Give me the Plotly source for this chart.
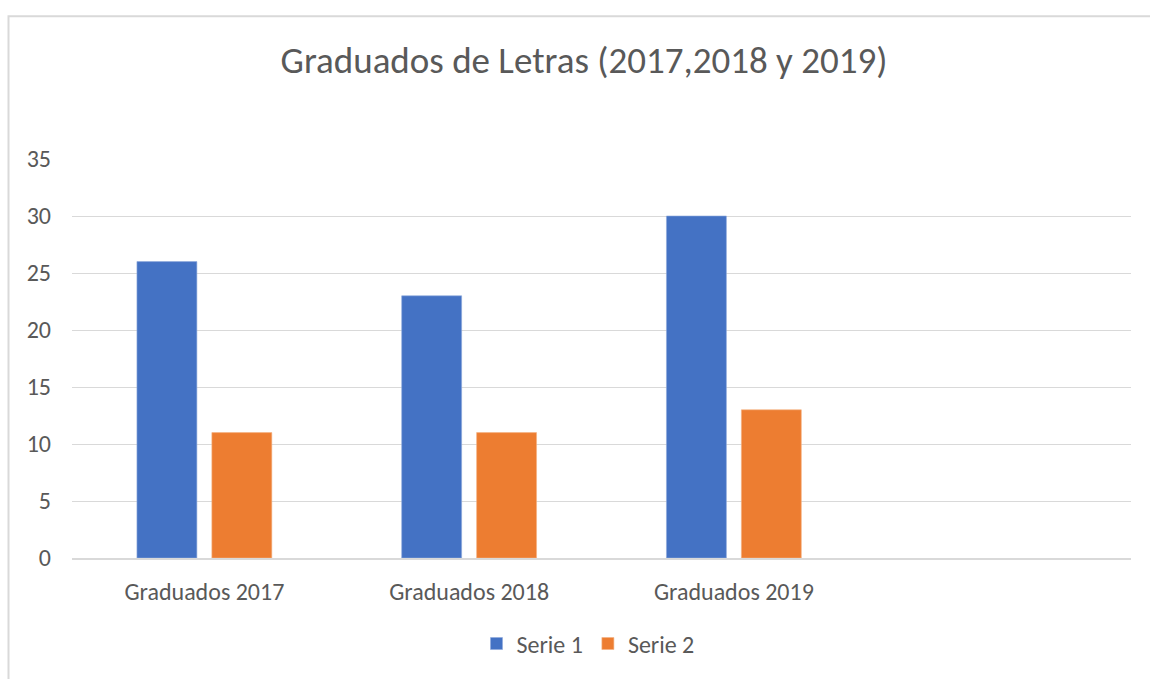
import plotly.graph_objects as go

categories = ["Graduados 2017", "Graduados 2018", "Graduados 2019"]
serie1 = [26, 23, 30]
serie2 = [11, 11, 13]
series_names = ["Serie 1", "Serie 2"]
title_text = "Graduados de Letras (2017,2018 y 2019)"

FONT = "Calibri, Carlito, Lato, sans-serif"
TXT = "#595959"
GRID = "#d9d9d9"

W, H = 1150, 679
L, T = 72, 159
R = W - 1131
B = H - 563

fig = go.Figure()
fig.add_trace(go.Bar(x=categories, y=serie1, name=series_names[0],
                     marker=dict(color="#4472C4", line=dict(color="#8faadc", width=0.6))))
fig.add_trace(go.Bar(x=categories, y=serie2, name=series_names[1],
                     marker=dict(color="#ED7D31", line=dict(color="#f4b183", width=0.6))))

pw = W - L - R
ph = H - T - B

def px_x(x):
    return (x - L) / pw

def px_y(y):
    return (H - B - y) / ph

fig.add_shape(type="rect", xref="paper", yref="paper",
              x0=px_x(8.5), x1=px_x(1175), y0=px_y(14.5), y1=px_y(700),
              line=dict(color=GRID, width=2), fillcolor="rgba(0,0,0,0)", layer="below")

fig.update_layout(
    width=W, height=H,
    margin=dict(l=L, r=R, t=T, b=B),
    paper_bgcolor="white", plot_bgcolor="white",
    font=dict(family=FONT, color=TXT, size=24),
    title=dict(text=title_text, x=584 / W, xanchor="center",
               y=1 - 60 / H, yanchor="middle",
               font=dict(family=FONT, size=37, color=TXT)),
    barmode="group", bargap=0.434, bargroupgap=0.2,
    showlegend=True,
    legend=dict(orientation="h", x=px_x(588), xanchor="center", y=px_y(650), yanchor="middle",
                font=dict(family=FONT, size=24, color=TXT), itemwidth=30,
                bgcolor="rgba(0,0,0,0)"),
    xaxis=dict(type="category", categoryorder="array", categoryarray=categories,
               range=[-0.5, 3.5], showgrid=False, showline=True, linecolor=GRID, linewidth=1.5,
               ticks="", ticklabelstandoff=11, tickfont=dict(family=FONT, size=24, color=TXT),
               zeroline=False, fixedrange=True),
    yaxis=dict(range=[0, 35], dtick=5, tick0=0, showgrid=True, gridcolor=GRID, gridwidth=1.3,
               zeroline=False, showline=False, ticks="", ticklabelstandoff=20,
               tickfont=dict(family=FONT, size=24, color=TXT), fixedrange=True),
)

fig.write_html(
    "out.html",
    config={"displayModeBar": False},
    post_script="document.body.style.margin='0';document.body.style.overflow='hidden';",
)
